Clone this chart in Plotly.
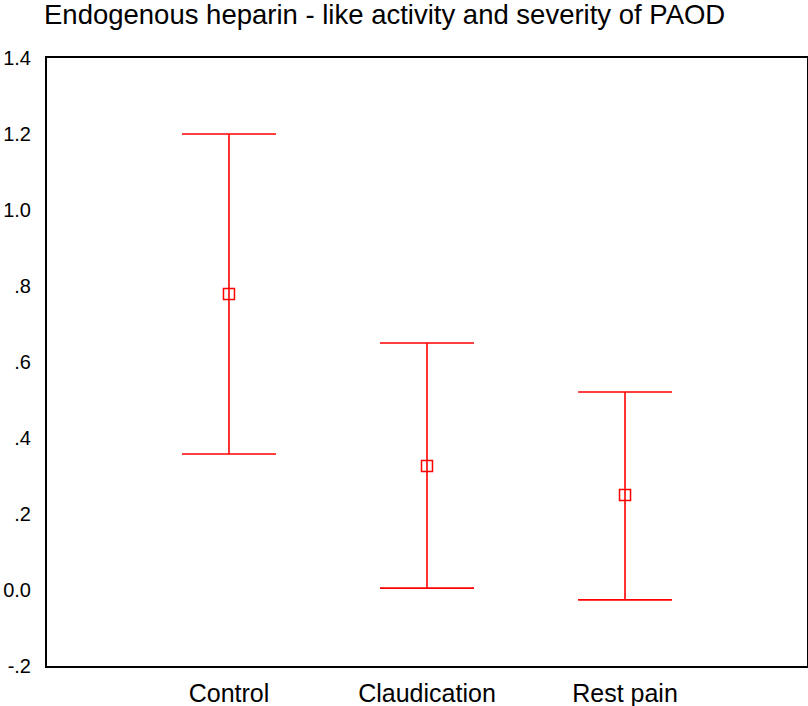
import plotly.graph_objects as go

categories = ["Control", "Claudication", "Rest pain"]
means = [0.779, 0.326, 0.250]
upper = [1.200, 0.650, 0.521]
lower = [0.358, 0.005, -0.026]
y_tickvals = [-0.2, 0.0, 0.2, 0.4, 0.6, 0.8, 1.0, 1.2, 1.4]
y_ticktext = ["-.2", "0.0", ".2", ".4", ".6", ".8", "1.0", "1.2", "1.4"]

err_plus = [u - m for u, m in zip(upper, means)]
err_minus = [m - l for m, l in zip(means, lower)]

fig = go.Figure()
fig.add_trace(go.Scatter(
    x=list(range(len(categories))), y=means, mode="markers",
    marker=dict(symbol="square-open", size=11, color="#ff0000", line=dict(width=1.5, color="#ff0000")),
    error_y=dict(type="data", symmetric=False, array=err_plus, arrayminus=err_minus,
                 color="#ff0000", thickness=1.6, width=47),
    showlegend=False,
))

fig.update_layout(
    width=808, height=706,
    margin=dict(l=47, r=1, t=58, b=40, autoexpand=False),
    paper_bgcolor="white", plot_bgcolor="white",
    font=dict(family="Liberation Sans, Arial, sans-serif", color="black"),
    title=dict(text="Endogenous heparin - like activity and severity of PAOD",
               x=44/808, xanchor="left", xref="container", y=1-14/706, yanchor="middle",
               font=dict(size=27.5, color="black")),
    xaxis=dict(range=[-0.919, 2.919], tickvals=list(range(len(categories))), ticktext=categories,
               showgrid=False, zeroline=False, showline=True, linecolor="black", linewidth=2,
               mirror=True, ticks="", tickfont=dict(size=25), ticklabelstandoff=4, automargin=False),
    yaxis=dict(range=[-0.2, 1.4], tickvals=y_tickvals, ticktext=y_ticktext,
               showgrid=False, zeroline=False, showline=True, linecolor="black", linewidth=2,
               mirror=True, ticks="", tickfont=dict(size=20), ticklabelstandoff=10, automargin=False),
)

fig.write_html("out.html", config={"displayModeBar": False},
               post_script="document.body.style.margin='0';document.body.style.overflow='hidden';")
